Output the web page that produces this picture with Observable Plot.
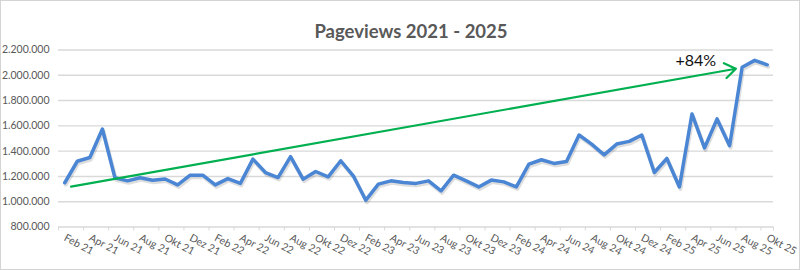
<!DOCTYPE html>
<html>
<head>
<meta charset="utf-8">
<script src="https://cdn.jsdelivr.net/npm/d3@7"></script>
<script src="https://cdn.jsdelivr.net/npm/@observablehq/plot@0.6"></script>
<style>
  html, body { margin: 0; padding: 0; background: #fff; }
  #wrap { position: relative; width: 800px; height: 270px; overflow: hidden; }
  #frame { position: absolute; left: 0; top: 0; width: 800px; height: 270px; box-sizing: border-box; border: 1px solid #d4d4d4; pointer-events: none; }
</style>
</head>
<body>
<div id="wrap"><div id="frame"></div></div>
<script>
const title = "Pageviews 2021 - 2025";

const months = [
  "Feb 21","Mär 21","Apr 21","Mai 21","Jun 21","Jul 21","Aug 21","Sep 21","Okt 21","Nov 21","Dez 21",
  "Jan 22","Feb 22","Mär 22","Apr 22","Mai 22","Jun 22","Jul 22","Aug 22","Sep 22","Okt 22","Nov 22","Dez 22",
  "Jan 23","Feb 23","Mär 23","Apr 23","Mai 23","Jun 23","Jul 23","Aug 23","Sep 23","Okt 23","Nov 23","Dez 23",
  "Jan 24","Feb 24","Mär 24","Apr 24","Mai 24","Jun 24","Jul 24","Aug 24","Sep 24","Okt 24","Nov 24","Dez 24",
  "Jan 25","Feb 25","Mär 25","Apr 25","Mai 25","Jun 25","Jul 25","Aug 25","Sep 25","Okt 25"
];

const pageviews = [
  1150000, 1320000, 1350000, 1575000, 1190000, 1165000, 1190000, 1170000, 1180000, 1133000, 1210000,
  1210000, 1133000, 1183000, 1145000, 1337000, 1231000, 1191000, 1356000, 1178000, 1239000, 1197000, 1324000,
  1205000, 1012000, 1139000, 1165000, 1152000, 1145000, 1165000, 1086000, 1210000, 1165000, 1117000, 1171000,
  1157000, 1117000, 1298000, 1332000, 1303000, 1318000, 1528000, 1456000, 1371000, 1456000, 1477000, 1528000,
  1231000, 1342000, 1117000, 1694000, 1425000, 1655000, 1443000, 2064000, 2118000, 2083000
];

const yTicks = [800000, 1000000, 1200000, 1400000, 1600000, 1800000, 2000000, 2200000];

// trend arrow (month index, value)
const arrowStart = [0.5, 1120000];
const arrowEnd = [53.5, 2052000];
const arrowLabel = "+84%";
const arrowLabelPos = [50.3, 2117000];

const data = pageviews.map((v, i) => ({i, month: months[i], value: v}));
const labelIdx = months.map((m, i) => i).filter(i => i % 2 === 0);
const boundaries = months.map((m, i) => i - 0.5).filter((b, k) => k % 2 === 0).concat([months.length - 0.5]);

const de = d3.formatLocale({decimal: ",", thousands: ".", grouping: [3], currency: ["", " €"]});
const fmt = de.format(",");

const font = "Lato, 'Open Sans', 'DejaVu Sans', sans-serif";

const chart = Plot.plot({
  width: 800,
  height: 270,
  marginTop: 49.5,
  marginBottom: 43.5,
  marginLeft: 58,
  marginRight: 27,
  style: {fontFamily: font, background: "transparent", color: "#595959", overflow: "visible"},
  x: {domain: [-0.5, months.length - 0.5]},
  y: {domain: [800000, 2200000]},
  marks: [
    Plot.gridY(yTicks, {stroke: "#d9d9d9", strokeOpacity: 1, strokeWidth: 1.4}),
    Plot.axisY(yTicks, {tickSize: 0, tickPadding: 9, tickFormat: fmt, fontSize: 10.5, fill: "#595959", label: null}),
    Plot.axisX(boundaries, {tickSize: 4, tickFormat: () => "", stroke: "#d9d9d9", strokeOpacity: 1, label: null}),
    Plot.axisX(labelIdx, {tickSize: 0, tickPadding: 10, tickRotate: 28, textAnchor: "start", tickFormat: i => months[i], fontSize: 10.5, fill: "#595959", label: null}),
    Plot.line(data, {x: "i", y: "value", stroke: "#000", strokeOpacity: 0.13, strokeWidth: 4, dx: 1, dy: 2, strokeLinejoin: "round"}),
    Plot.line(data, {x: "i", y: "value", stroke: "#4a86d4", strokeWidth: 3.5, strokeLinejoin: "round", strokeLinecap: "round"}),
    Plot.arrow([{x1: arrowStart[0], y1: arrowStart[1], x2: arrowEnd[0], y2: arrowEnd[1]}],
      {x1: "x1", y1: "y1", x2: "x2", y2: "y2", stroke: "#00b050", strokeWidth: 2.2, headLength: 9, headAngle: 70}),
    Plot.text([arrowLabel], {x: arrowLabelPos[0], y: arrowLabelPos[1], text: d => d, fontSize: 16, fill: "#111", fontFamily: font}),
    Plot.text([title], {frameAnchor: "top", dx: -5, dy: -25.5, text: d => d, fontSize: 18.5, fontWeight: "bold", fill: "#595959", fontFamily: font})
  ]
});

document.getElementById("wrap").insertBefore(chart, document.getElementById("frame"));
</script>
</body>
</html>
